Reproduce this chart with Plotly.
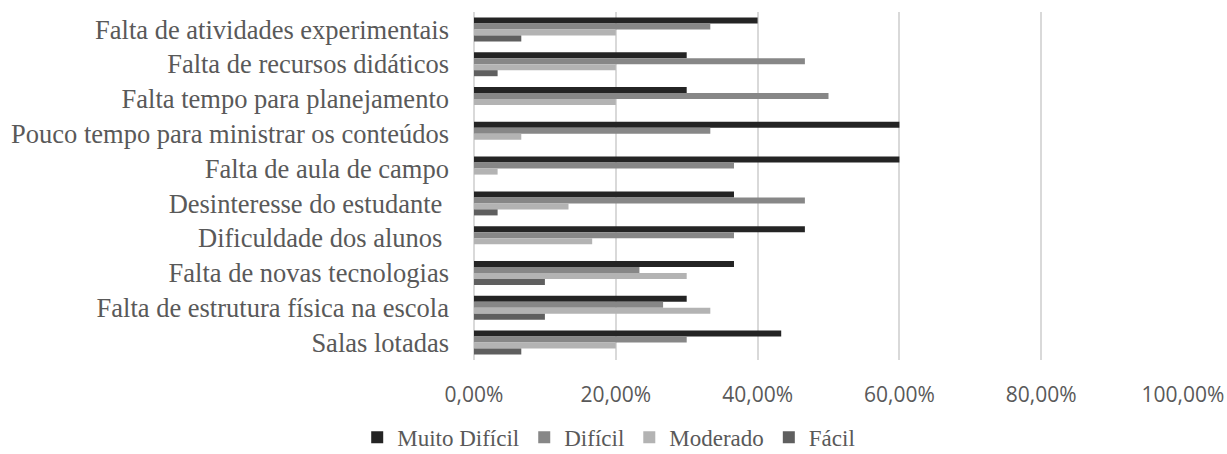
import plotly.graph_objects as go

# Categories listed top to bottom
categorias = [
    "Falta de atividades experimentais",
    "Falta de recursos didáticos",
    "Falta tempo para planejamento",
    "Pouco tempo para ministrar os conteúdos",
    "Falta de aula de campo",
    "Desinteresse do estudante ",
    "Dificuldade dos alunos ",
    "Falta de novas tecnologias",
    "Falta de estrutura física na escola",
    "Salas lotadas",
]

muito_dificil = [0.4000, 0.3000, 0.3000, 0.6000, 0.6000, 0.3667, 0.4667, 0.3667, 0.3000, 0.4333]
dificil       = [0.3333, 0.4667, 0.5000, 0.3333, 0.3667, 0.4667, 0.3667, 0.2333, 0.2667, 0.3000]
moderado      = [0.2000, 0.2000, 0.2000, 0.0667, 0.0333, 0.1333, 0.1667, 0.3000, 0.3333, 0.2000]
facil         = [0.0667, 0.0333, 0.0000, 0.0000, 0.0000, 0.0333, 0.0000, 0.1000, 0.1000, 0.0667]

series = [
    ("Muito Difícil", muito_dificil, "#242424"),
    ("Difícil", dificil, "#878787"),
    ("Moderado", moderado, "#b3b3b3"),
    ("Fácil", facil, "#5f5f5f"),
]

x_ticks = [0, 0.2, 0.4, 0.6, 0.8, 1.0]

fig = go.Figure()
for nome, valores, cor in series:
    fig.add_trace(go.Bar(
        y=categorias,
        x=valores,
        name=nome,
        orientation="h",
        marker=dict(color=cor, line=dict(width=0)),
    ))

serif = "Times New Roman, Liberation Serif, serif"

fig.update_layout(
    width=1227,
    height=454,
    barmode="group",
    bargap=0.31,
    bargroupgap=0,
    separators=",.",
    paper_bgcolor="white",
    plot_bgcolor="white",
    margin=dict(l=474, r=44, t=12, b=94, autoexpand=False),
    xaxis=dict(
        range=[0, 1.0],
        tickvals=x_ticks,
        tickformat=".2%",
        showgrid=True,
        gridcolor="#d9d9d9",
        gridwidth=1.5,
        zeroline=True,
        zerolinecolor="#d9d9d9",
        zerolinewidth=1.5,
        showline=False,
        ticks="",
        automargin=False,
        ticklabelstandoff=20,
        tickfont=dict(family="Open Sans, sans-serif", size=21, color="#595959"),
    ),
    yaxis=dict(
        autorange="reversed",
        showgrid=False,
        zeroline=False,
        showline=False,
        ticks="",
        automargin=False,
        ticklabelstandoff=24,
        tickfont=dict(family=serif, size=26.5, color="#595959"),
    ),
    legend=dict(
        orientation="h",
        x=0.19,
        xanchor="center",
        y=-0.222,
        yanchor="middle",
        font=dict(family=serif, size=23, color="#595959"),
        itemwidth=30,
        tracegroupgap=0,
    ),
)

fig.write_html("out.html")
